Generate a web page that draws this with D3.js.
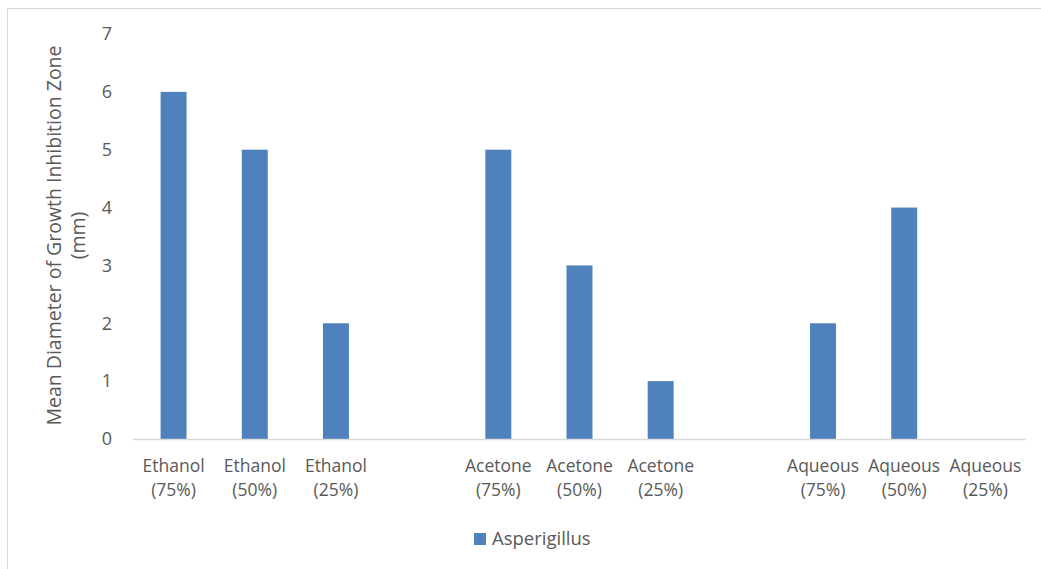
<!DOCTYPE html>
<html>
<head>
<meta charset="utf-8">
<script src="https://cdn.jsdelivr.net/npm/d3@7"></script>
<style>
  body { margin: 0; background: #fff; }
  text { font-family: "Open Sans", sans-serif; fill: #595959; }
</style>
</head>
<body>
<div id="chart"></div>
<script>
// ── Data ───────────────────────────────────────────────────────────────────
const categories = [
  "Ethanol|(75%)", "Ethanol|(50%)", "Ethanol|(25%)", "gap1",
  "Acetone|(75%)", "Acetone|(50%)", "Acetone|(25%)", "gap2",
  "Aqueous|(75%)", "Aqueous|(50%)", "Aqueous|(25%)"
];
const values = [6, 5, 2, null, 5, 3, 1, null, 2, 4, 0];
const yTicks = [0, 1, 2, 3, 4, 5, 6, 7];
const seriesName = "Asperigillus";
const yTitle = ["Mean Diameter of Growth Inhibition Zone", "(mm)"];

// ── Dimensions ─────────────────────────────────────────────────────────────
const W = 1041, H = 569;
const margin = { top: 34, right: 15, bottom: 130, left: 133 };
const width = W - margin.left - margin.right;
const height = H - margin.top - margin.bottom;

const svg = d3.select("#chart").append("svg")
  .attr("width", W).attr("height", H);

// chart border (only top/left visible)
svg.append("rect")
  .attr("x", 7.5).attr("y", 8.5)
  .attr("width", W + 20).attr("height", H + 20)
  .attr("fill", "none").attr("stroke", "#d9d9d9").attr("stroke-width", 1);

const g = svg.append("g")
  .attr("transform", `translate(${margin.left},${margin.top})`);

// ── Scales ─────────────────────────────────────────────────────────────────
const x = d3.scaleBand().domain(categories).range([0, width]).paddingInner(0.68).paddingOuter(0.34);
const y = d3.scaleLinear().domain([0, 7]).range([height, 0]);

// ── Bars ───────────────────────────────────────────────────────────────────
g.selectAll(".bar")
  .data(categories.map((c, i) => ({ c, v: values[i] })).filter(d => d.v))
  .join("rect")
  .attr("class", "bar")
  .attr("x", d => x(d.c))
  .attr("y", d => y(d.v))
  .attr("width", x.bandwidth())
  .attr("height", d => height - y(d.v))
  .attr("fill", "#4f81bd");

// ── Axes ───────────────────────────────────────────────────────────────────
g.append("line")
  .attr("x1", 0).attr("x2", width)
  .attr("y1", height + 0.5).attr("y2", height + 0.5)
  .attr("stroke", "#d9d9d9").attr("stroke-width", 1.5);

const yAxis = g.append("g")
  .call(d3.axisLeft(y).tickValues(yTicks).tickFormat(d3.format("d")).tickSize(0).tickPadding(21));
yAxis.select(".domain").remove();
yAxis.selectAll("text").style("font-size", "18px").attr("fill", "#595959");

const xAxis = g.append("g")
  .attr("transform", `translate(0,${height})`)
  .call(d3.axisBottom(x).tickSize(0).tickFormat(""));
xAxis.select(".domain").remove();
xAxis.selectAll(".tick").each(function (d) {
  if (d.startsWith("gap")) return;
  const parts = d.split("|");
  const t = d3.select(this).append("text")
    .attr("text-anchor", "middle")
    .style("font-size", "17.5px")
    .attr("fill", "#595959");
  parts.forEach((p, i) => {
    t.append("tspan").attr("x", 0).attr("y", 33 + i * 24).text(p);
  });
});

// ── Y title ────────────────────────────────────────────────────────────────
const yt = svg.append("text")
  .attr("transform", `translate(0,${margin.top + height / 2 - 1}) rotate(-90)`)
  .attr("text-anchor", "middle")
  .style("font-size", "19.5px");
yTitle.forEach((p, i) => {
  yt.append("tspan").attr("x", 0).attr("y", 61 + i * 24).text(p);
});

// ── Legend ─────────────────────────────────────────────────────────────────
const legend = svg.append("g").attr("transform", "translate(474,533)");
legend.append("rect").attr("width", 12).attr("height", 12).attr("fill", "#4f81bd");
legend.append("text").attr("x", 18).attr("y", 12).style("font-size", "18.5px").text(seriesName);
</script>
</body>
</html>
